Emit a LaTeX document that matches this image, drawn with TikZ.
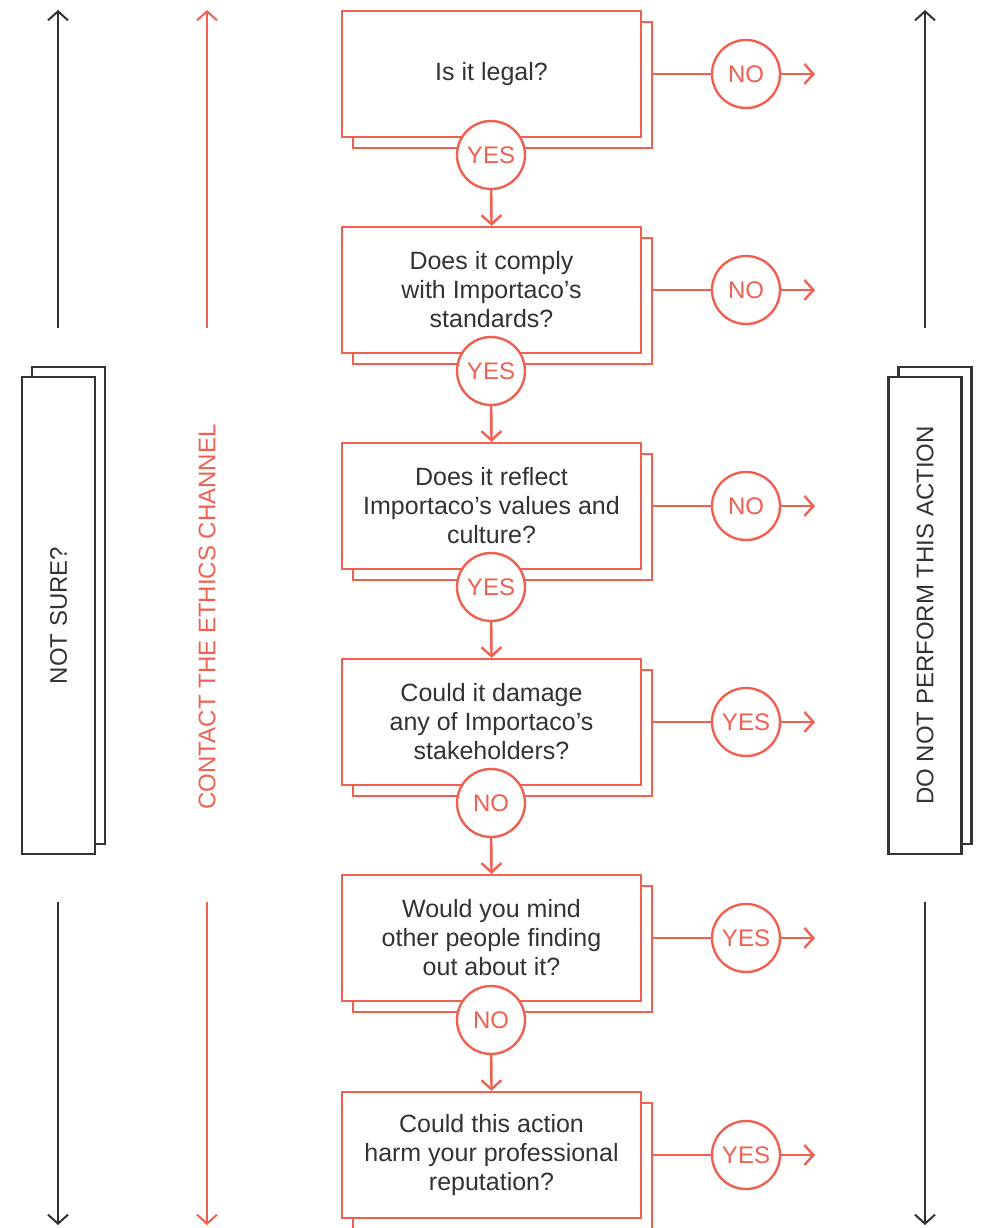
\documentclass[tikz,border=0pt]{standalone}
\usepackage{fontspec}
\setmainfont{Liberation Sans}
\usetikzlibrary{arrows.meta,shadows}
\definecolor{coral}{RGB}{240,96,80}
\definecolor{ink}{RGB}{51,51,51}

\tikzset{
  question/.style={draw=coral, line width=2.4pt, fill=white, minimum width=299pt, minimum height=126pt,
    align=center, text=ink, font=\fontsize{25}{29}\selectfont,
    copy shadow={shadow xshift=11pt, shadow yshift=-11pt}},
  answer/.style={circle, draw=coral, line width=2.4pt, fill=white, minimum size=68pt, inner sep=0pt,
    text=coral, font=\fontsize{24}{28}\selectfont},
  sidebox/.style={draw=ink, line width=2.4pt, fill=white, minimum width=73pt, minimum height=477pt,
    inner sep=0pt, text=ink, font=\fontsize{24}{28}\selectfont,
    copy shadow={shadow xshift=10pt, shadow yshift=10pt}},
  flow/.style={coral, line width=2.4pt, -{Straight Barb[length=9pt,width=20pt]}},
  link/.style={coral, line width=2.4pt},
  side/.style={line width=2pt, -{Straight Barb[length=9pt,width=20pt]}},
}

\begin{document}
\begin{tikzpicture}[x=1pt,y=-1pt]
\useasboundingbox (0,0) rectangle (982,1228);

%Shape: side arrows
\coordinate (nt) at (58,10);
\coordinate (nm) at (58,328);
\coordinate (nn) at (58,902);
\coordinate (nb) at (58,1225);
\coordinate (et) at (207,10);
\coordinate (em) at (207,328);
\coordinate (en) at (207,902);
\coordinate (eb) at (207,1225);
\coordinate (dt) at (925,10);
\coordinate (dm) at (925,328);
\coordinate (dn) at (925,902);
\coordinate (db) at (925,1225);
\draw [side, ink] (nm) -- (nt);
\draw [side, ink] (nn) -- (nb);
\draw [side, coral] (em) -- (et);
\draw [side, coral] (en) -- (eb);
\draw [side, ink] (dm) -- (dt);
\draw [side, ink] (dn) -- (db);

%Shape: side boxes
\node [sidebox] (unsure) at (58.5,615.5) {\rotatebox{90}{NOT SURE?}};
\node [sidebox] (refrain) at (925,615.5) {\rotatebox{90}{DO NOT PERFORM THIS ACTION}};
% Text Node
\node [text=coral, rotate=90, font=\fontsize{24}{28}\selectfont] (ethics) at (207,617) {CONTACT THE ETHICS CHANNEL};

%Shape: questions
\node [question] (q1) at (491.5,74) {Is it legal?};
\node [question] (q2) at (491.5,290) {Does it comply\\with Importaco’s\\standards?};
\node [question] (q3) at (491.5,506) {Does it reflect\\Importaco’s values and\\culture?};
\node [question] (q4) at (491.5,722) {Could it damage\\any of Importaco’s\\stakeholders?};
\node [question] (q5) at (491.5,938) {Would you mind\\other people finding\\out about it?};
\node [question] (q6) at (491.5,1155) {Could this action\\harm your professional\\reputation?};

%Shape: answers below
\node [answer] (d1) at (491,155) {YES};
\node [answer] (d2) at (491,371) {YES};
\node [answer] (d3) at (491,587) {YES};
\node [answer] (d4) at (491,803) {NO};
\node [answer] (d5) at (491,1020) {NO};

%Shape: answers right
\node [answer] (r1) at (746,74) {NO};
\node [answer] (r2) at (746,290) {NO};
\node [answer] (r3) at (746,506) {NO};
\node [answer] (r4) at (746,722) {YES};
\node [answer] (r5) at (746,938) {YES};
\node [answer] (r6) at (746,1155) {YES};
\coordinate (o1) at (815,74);
\coordinate (o2) at (815,290);
\coordinate (o3) at (815,506);
\coordinate (o4) at (815,722);
\coordinate (o5) at (815,938);
\coordinate (o6) at (815,1155);

% Connection
\draw [flow] (d1) -- (q2.north);
\draw [flow] (d2) -- (q3.north);
\draw [flow] (d3) -- (q4.north);
\draw [flow] (d4) -- (q5.north);
\draw [flow] (d5) -- (q6.north);

\draw [link] ([xshift=11pt]q1.east) -- (r1);
\draw [link] ([xshift=11pt]q2.east) -- (r2);
\draw [link] ([xshift=11pt]q3.east) -- (r3);
\draw [link] ([xshift=11pt]q4.east) -- (r4);
\draw [link] ([xshift=11pt]q5.east) -- (r5);
\draw [link] ([xshift=11pt]q6.east) -- (r6);

\draw [flow] (r1) -- (o1);
\draw [flow] (r2) -- (o2);
\draw [flow] (r3) -- (o3);
\draw [flow] (r4) -- (o4);
\draw [flow] (r5) -- (o5);
\draw [flow] (r6) -- (o6);

\end{tikzpicture}
\end{document}
